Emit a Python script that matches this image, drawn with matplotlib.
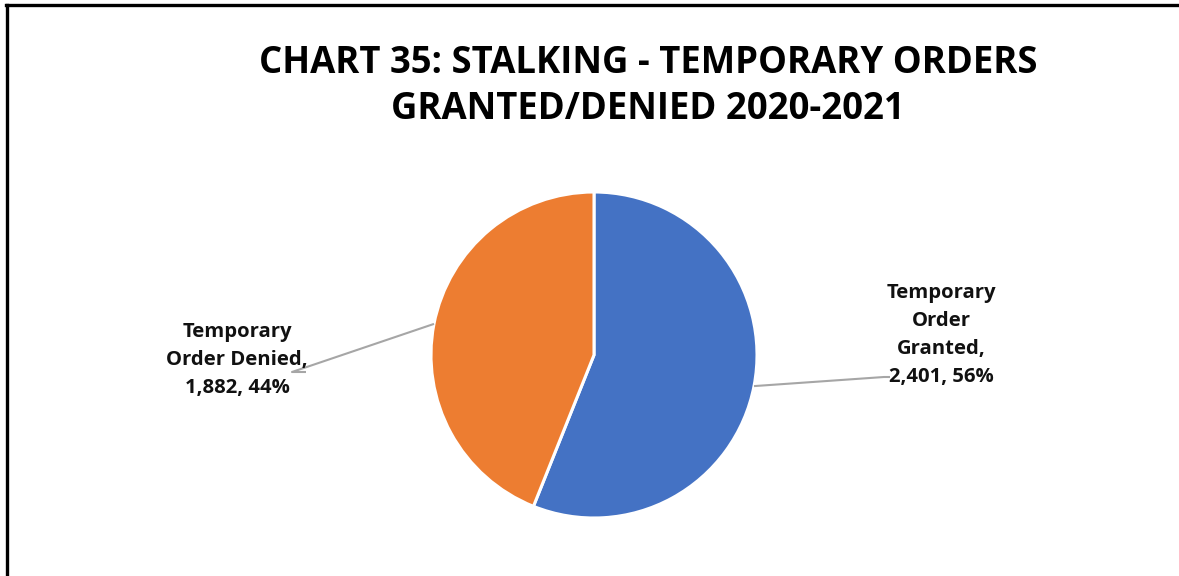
import numpy as np
import matplotlib
matplotlib.use("Agg")
import matplotlib.pyplot as plt
from matplotlib.lines import Line2D

title = "CHART 35: STALKING - TEMPORARY ORDERS\nGRANTED/DENIED 2020-2021"
labels = ["Temporary\nOrder\nGranted,", "Temporary\nOrder Denied,"]
values = [2401, 1882]
colors = ["#4472C4", "#ED7D31"]

plt.rcParams["font.family"] = ["Open Sans", "DejaVu Sans"]

W, H = 1179, 576
fig = plt.figure(figsize=(W / 100, H / 100), dpi=100)
# axes in pixel units so the layout is easy to place
ax = fig.add_axes([0, 0, 1, 1])

cx, cy, r = 594, H - 355, 163
wedges, _ = ax.pie(values, colors=colors, startangle=90, counterclock=False,
                   center=(cx, cy), radius=r, frame=True,
                   wedgeprops=dict(edgecolor="white", linewidth=2.2))
ax.set_xlim(0, W)
ax.set_ylim(0, H)
ax.set_aspect("auto")
ax.axis("off")

total = sum(values)
texts = [f"{lab}\n{v:,}, {v / total * 100:.0f}%" for lab, v in zip(labels, values)]

# label positions, leader start angles and leader ends
label_xy = [(941, H - 335), (237, H - 360)]
leader_ang = [-11, 169]
leader_end = [(884, H - 377), (292, H - 372)]
leader_tail = [(890, H - 377), (306, H - 372)]

for txt, (tx, ty), ang, (ex, ey), (tx2, ty2) in zip(texts, label_xy, leader_ang,
                                                   leader_end, leader_tail):
    a = np.deg2rad(ang)
    sx, sy = cx + r * np.cos(a), cy + r * np.sin(a)
    ax.plot([sx, ex, tx2], [sy, ey, ty2], color="#A6A6A6", lw=1.5,
            solid_capstyle="butt", zorder=1)
    ax.text(tx, ty, txt, ha="center", va="center", fontsize=14.6,
            fontweight="bold", color="#111111", linespacing=1.55, zorder=3)

ax.text(648, H - 86, title, ha="center", va="center", fontsize=26.3,
        fontweight="bold", color="#000000", linespacing=1.3)

# chart frame (left and top edges)
fig.add_artist(Line2D([7 / W, 7 / W], [0, 1 - 5 / H], transform=fig.transFigure,
                      color="black", lw=2.4))
fig.add_artist(Line2D([6 / W, 1], [1 - 5 / H, 1 - 5 / H], transform=fig.transFigure,
                      color="black", lw=2.4))

fig.savefig("out.png", dpi=100)
